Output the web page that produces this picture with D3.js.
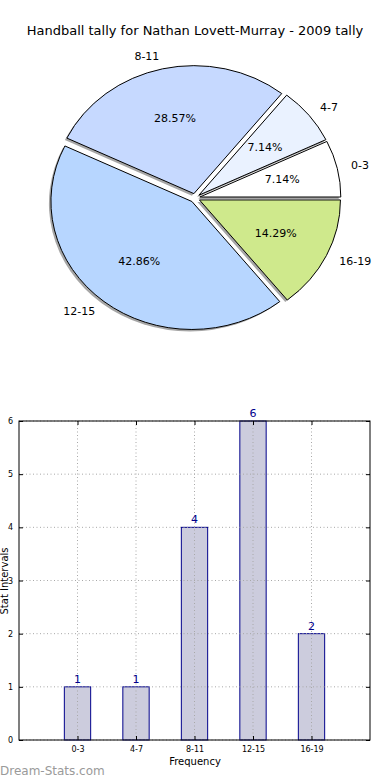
<!DOCTYPE html>
<html><head><meta charset="utf-8">
<script src="https://cdn.jsdelivr.net/npm/d3@7"></script>
<style>body{margin:0;background:#fff}svg{display:block;font-family:"DejaVu Sans",sans-serif}</style>
</head><body><svg id="c" width="390" height="780"></svg>
<script>
const categories = ["0-3","4-7","8-11","12-15","16-19"];
const counts = [1,1,4,6,2];
const pieColors = ["#ffffff","#eaf2ff","#c6d9ff","#b7d6ff","#cfe98c"];
const yTicks = [0,1,2,3,4,5,6];
const title = "Handball tally for Nathan Lovett-Murray - 2009 tally";

const svg = d3.select("#c");
svg.append("text").attr("x",195).attr("y",35).attr("text-anchor","middle")
  .attr("font-size",13).attr("fill","#000").text(title);

// Pie (elliptical like matplotlib without equal aspect)
const cx=195, cy=198, rx=141, ry=128, ex=0.035;
const pie = d3.pie().sort(null).startAngle(Math.PI/2).endAngle(Math.PI/2-2*Math.PI);
const arcs = pie(counts);
const arc = d3.arc().innerRadius(0).outerRadius(1);
const total = d3.sum(counts);
const pg = svg.append("g");
function off(d){const a=(d.startAngle+d.endAngle)/2;return [ex*Math.sin(a)*rx, -ex*Math.cos(a)*ry];}
// shadows
arcs.forEach(d=>{
  const [dx,dy]=off(d);
  pg.append("path").attr("d",arc(d))
    .attr("transform",`translate(${cx+dx-2},${cy+dy+2}) scale(${rx},${ry})`)
    .attr("fill","#6a6a6a").attr("opacity",0.6);
});
arcs.forEach((d,i)=>{
  const [dx,dy]=off(d);
  pg.append("path").attr("d",arc(d))
    .attr("transform",`translate(${cx+dx},${cy+dy}) scale(${rx},${ry})`)
    .attr("fill",pieColors[i]).attr("stroke","#000").attr("stroke-width",1)
    .attr("vector-effect","non-scaling-stroke");
});
arcs.forEach((d,i)=>{
  const [dx,dy]=off(d);
  const a=(d.startAngle+d.endAngle)/2, s=Math.sin(a), c=-Math.cos(a);
  pg.append("text").attr("x",cx+dx+0.6*rx*s).attr("y",cy+dy+0.6*ry*c)
    .attr("text-anchor","middle").attr("dominant-baseline","central")
    .attr("font-size",11).text((counts[i]/total*100).toFixed(2)+"%");
  pg.append("text").attr("x",cx+dx+1.1*rx*s).attr("y",cy+dy+1.1*ry*c)
    .attr("text-anchor", s>=0?"start":"end").attr("dominant-baseline","central")
    .attr("font-size",11).text(categories[i]);
});

// Bar chart
const L=19,R=370,T=421,B=740;
const x = d3.scaleLinear().domain([-1,5]).range([L,R]);
const y = d3.scaleLinear().domain([0,6]).range([B,T]);
const bw = x(0.45)-x(0);
const g = svg.append("g");
// bars
g.selectAll(".bar").data(counts).enter().append("rect")
  .attr("x",(d,i)=>x(i)-bw/2).attr("y",d=>y(d)).attr("width",bw).attr("height",d=>B-y(d))
  .attr("fill","#ccccdd").attr("stroke","#00008b").attr("stroke-width",1);
// grid (drawn above bars)
g.selectAll(".vg").data(categories).enter().append("line")
  .attr("x1",(d,i)=>x(i)).attr("x2",(d,i)=>x(i)).attr("y1",T).attr("y2",B)
  .attr("stroke","#a8a8a8").attr("stroke-dasharray","1,2.5").attr("stroke-width",1);
g.selectAll(".hg").data(yTicks).enter().append("line")
  .attr("x1",L).attr("x2",R).attr("y1",d=>y(d)).attr("y2",d=>y(d))
  .attr("stroke","#a8a8a8").attr("stroke-dasharray","1,2.5").attr("stroke-width",1);
// value labels
g.selectAll(".vl").data(counts).enter().append("text")
  .attr("x",(d,i)=>x(i)).attr("y",d=>y(d)-4).attr("text-anchor","middle")
  .attr("font-size",11).attr("fill","#00008b").text(d=>d);
// axes
const yAx = d3.axisLeft(y).tickValues(yTicks).tickSize(-4).tickPadding(6).tickFormat(d3.format("d"));
const yAxR = d3.axisRight(y).tickValues(yTicks).tickSize(-4).tickFormat("");
const xAx = d3.axisBottom(x).tickValues(d3.range(categories.length)).tickSize(-4).tickPadding(6).tickFormat(i=>categories[i]);
const xAxT = d3.axisTop(x).tickValues(d3.range(categories.length)).tickSize(-4).tickFormat("");
[[yAx,`translate(${L},0)`],[yAxR,`translate(${R},0)`],[xAx,`translate(0,${B})`],[xAxT,`translate(0,${T})`]].forEach(([ax,tr])=>{
  const a=g.append("g").attr("transform",tr).call(ax);
  a.select(".domain").remove();
  a.selectAll("line").attr("stroke","#000");
  a.selectAll("text").attr("font-size",8).attr("fill","#000").attr("font-family","DejaVu Sans");
});
g.append("rect").attr("x",L).attr("y",T).attr("width",R-L).attr("height",B-T)
  .attr("fill","none").attr("stroke","#000").attr("stroke-width",1);
g.append("text").attr("x",195).attr("y",765).attr("text-anchor","middle").attr("font-size",10).text("Frequency");
g.append("text").attr("transform","translate(8,581) rotate(-90)").attr("text-anchor","middle")
  .attr("font-size",10).text("Stat Intervals");
svg.append("text").attr("x",0).attr("y",775).attr("font-size",12)
  .attr("fill","#9a9a9a").text("Dream-Stats.com");
</script></body></html>
